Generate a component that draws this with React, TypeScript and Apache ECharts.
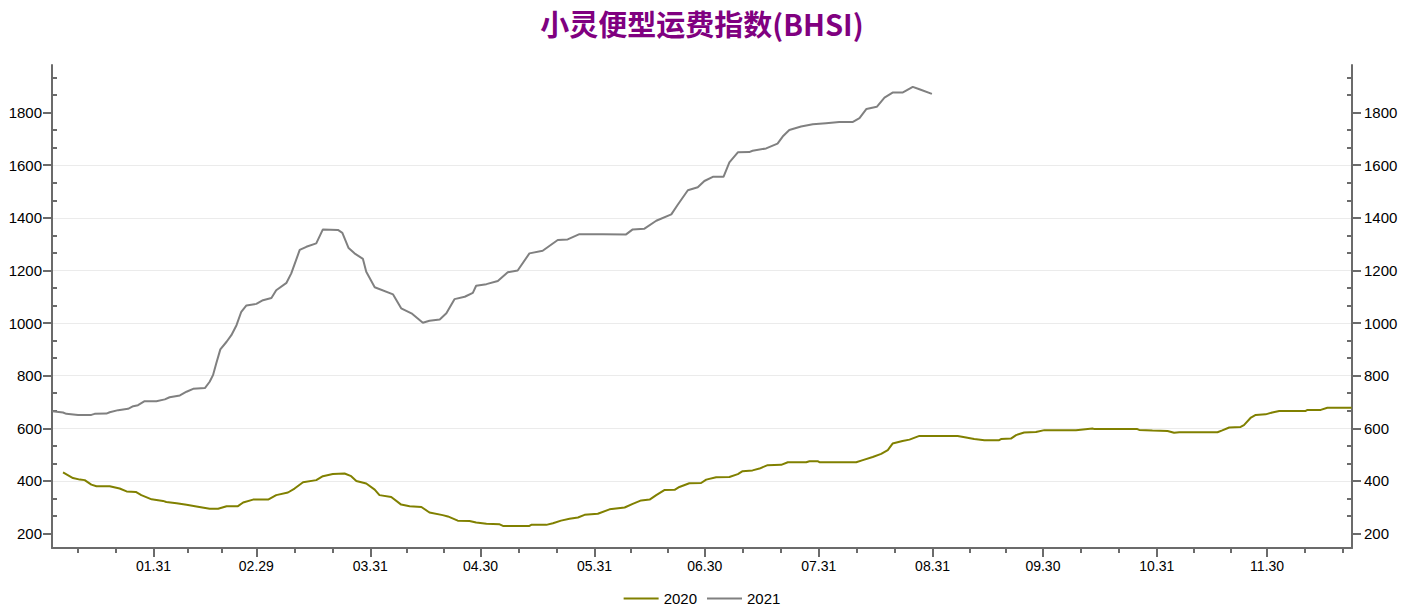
import React, { useEffect, useRef } from "react";
import * as echarts from "echarts";

// ---- data (x = day of year, tick labels at month ends) ----
const monthEnds = [30, 58, 89, 119, 150, 180, 211, 242, 272, 303, 333];
const monthLabels = ["01.31", "02.29", "03.31", "04.30", "05.31", "06.30", "07.31", "08.31", "09.30", "10.31", "11.30"];
const yLabels = [200, 400, 600, 800, 1000, 1200, 1400, 1600, 1800];

const days2021 = [2.5, 5.4, 6.3, 9.5, 13.1, 14.0, 17.2, 18.1, 20.4, 23.1,
  24.5, 25.8, 27.6, 30.8, 33.1, 34.4, 37.2, 39.0, 40.8, 44.0,
  45.3, 46.2, 47.1, 48.2, 49.9, 51.2, 52.6, 53.9, 55.3, 58.0,
  59.8, 62.1, 63.4, 66.2, 67.5, 69.8, 71.6, 74.3, 76.1, 80.2,
  81.4, 83.1, 84.7, 87.0, 87.9, 90.2, 95.2, 97.4, 100.2, 103.3,
  105.1, 107.9, 109.7, 111.9, 114.7, 116.9, 117.8, 120.6, 123.7, 126.4,
  129.1, 132.3, 135.9, 140.0, 142.7, 145.9, 152.3, 158.6, 160.4, 163.6,
  166.8, 170.9, 172.6, 175.4, 178.1, 179.9, 182.2, 185.1, 186.7, 189.0,
  192.1, 193.0, 196.7, 199.8, 201.2, 203.0, 206.2, 209.4, 213.0, 216.6,
  220.2, 222.1, 224.0, 226.8, 228.9, 231.1, 233.8, 236.6, 238.4, 241.8];
const values2021 = [665, 660, 655, 651, 651, 655, 656, 661, 669, 674,
  684, 688, 703, 703, 710, 718, 725, 739, 750, 753,
  777, 802, 847, 900, 929, 954, 992, 1043, 1067, 1073,
  1087, 1095, 1125, 1153, 1189, 1278, 1290, 1303, 1356, 1354,
  1343, 1285, 1265, 1244, 1195, 1136, 1109, 1056, 1037, 1001,
  1009, 1014, 1037, 1091, 1100, 1115, 1142, 1148, 1160, 1193,
  1200, 1265, 1275, 1316, 1318, 1338, 1338, 1337, 1356, 1359,
  1389, 1413, 1449, 1505, 1516, 1540, 1556, 1556, 1611, 1649,
  1650, 1655, 1664, 1682, 1709, 1734, 1747, 1756, 1760, 1764,
  1764, 1779, 1814, 1822, 1857, 1876, 1876, 1898, 1889, 1871];

const days2020 = [5.4, 8.1, 10.0, 11.3, 13.1, 14.5, 18.1, 20.8, 22.7, 25.2,
  26.7, 29.5, 32.6, 33.5, 36.3, 39.0, 41.7, 45.3, 47.6, 49.9,
  53.0, 54.4, 57.1, 61.2, 63.4, 66.6, 68.4, 70.7, 74.3, 76.1,
  78.8, 82.0, 83.8, 85.2, 87.9, 90.2, 91.5, 94.7, 97.4, 99.7,
  102.9, 105.1, 108.7, 110.1, 112.8, 116.0, 117.8, 120.6, 124.2, 125.1,
  132.3, 132.8, 136.9, 138.7, 140.9, 143.2, 145.5, 147.3, 150.9, 154.1,
  158.2, 160.4, 162.7, 165.0, 166.8, 169.0, 171.8, 173.1, 175.8, 179.0,
  180.4, 183.1, 186.7, 189.0, 190.3, 193.0, 194.9, 197.1, 200.8, 202.6,
  207.6, 208.5, 210.7, 211.2, 221.2, 223.0, 225.7, 228.0, 229.8, 231.1,
  233.8, 235.7, 238.4, 243.8, 248.8, 251.1, 253.3, 256.1, 260.1, 260.6,
  263.3, 264.7, 266.9, 270.1, 272.4, 281.0, 285.5, 286.0, 297.7, 298.2,
  301.8, 305.9, 307.7, 309.1, 319.5, 320.8, 322.7, 325.8, 326.7, 328.6,
  329.9, 332.6, 334.4, 336.3, 343.5, 344.0, 347.6, 349.4, 356.0];
const values2020 = [432, 411, 405, 403, 386, 380, 380, 371, 360, 358,
  346, 330, 324, 320, 315, 309, 303, 294, 294, 304,
  304, 318, 329, 329, 346, 356, 371, 395, 403, 418,
  426, 428, 418, 400, 390, 367, 346, 339, 310, 304,
  301, 280, 270, 265, 249, 248, 242, 237, 235, 229,
  229, 233, 233, 239, 249, 256, 261, 271, 275, 292,
  299, 313, 326, 329, 346, 365, 366, 377, 391, 392,
  405, 414, 415, 426, 437, 440, 447, 460, 461, 471,
  471, 475, 475, 471, 471, 479, 491, 503, 517, 542,
  552, 557, 571, 571, 571, 565, 559, 555, 555, 559,
  561, 574, 584, 586, 593, 593, 599, 597, 597, 594,
  592, 590, 583, 585, 585, 592, 603, 605, 612, 641,
  651, 653, 660, 666, 666, 670, 670, 678, 678];

const X_MIN = 2.4;
const X_MAX = 356.1;
const Y_MIN = 145;
const Y_MAX = 1981;

const AXIS_COLOR = "#6b6b6b";
const LABEL_FONT = "Liberation Sans";

function buildMinorX() {
  const bounds = [-1, ...monthEnds, 364];
  const out: number[] = [];
  for (let i = 0; i < bounds.length - 1; i++) {
    const a = bounds[i], b = bounds[i + 1];
    [a + (b - a) / 3, a + (2 * (b - a)) / 3].forEach((v) => {
      if (v > X_MIN && v < X_MAX) out.push(v);
    });
  }
  return out;
}
function buildMinorY() {
  const out: number[] = [];
  for (let n = -3; n <= 30; n++) {
    if (n % 3 === 0) continue;
    const v = 200 + (n * 200) / 3;
    if (v > Y_MIN && v < Y_MAX) out.push(v);
  }
  return out;
}

export default function App() {
  const ref = useRef<HTMLDivElement>(null);
  useEffect(() => {
    if (!ref.current) return;
    const chart = echarts.init(ref.current, null, { renderer: "svg" });
    const minorX = buildMinorX();
    const minorY = buildMinorY();
    const d2020 = days2020.map((d, i) => [d, values2020[i]]);
    const d2021 = days2021.map((d, i) => [d, values2021[i]]);

    const yMain = (pos: "left" | "right", margin: number, split: boolean) => ({
      type: "value",
      position: pos,
      min: Y_MIN,
      max: Y_MAX,
      splitNumber: 9,
      axisLine: { show: true, onZero: false, lineStyle: { color: AXIS_COLOR, width: 2 } },
      axisTick: { show: true, customValues: yLabels, length: 9, lineStyle: { color: AXIS_COLOR, width: 2 } },
      axisLabel: {
        customValues: yLabels,
        margin,
        color: "#000",
        fontSize: 15,
        fontFamily: LABEL_FONT,
        formatter: (v: number) => String(Math.round(v)),
      },
      splitLine: { show: split, showMinLine: false, showMaxLine: false, lineStyle: { color: "#ebebeb", width: 1 } },
    });
    const yMinor = (pos: "left" | "right") => ({
      type: "value",
      position: pos,
      min: Y_MIN,
      max: Y_MAX,
      axisLine: { show: false },
      axisTick: { show: true, inside: true, customValues: minorY, length: 5, lineStyle: { color: AXIS_COLOR, width: 2 } },
      axisLabel: { show: false },
      splitLine: { show: false },
    });

    chart.setOption({
      animation: false,
      backgroundColor: "#ffffff",
      title: {
        text: "小灵便型运费指数(BHSI)",
        left: "center",
        top: 3,
        textStyle: { color: "#800080", fontSize: 29, fontWeight: "bold", fontFamily: "Noto Sans CJK SC" },
      },
      legend: {
        data: ["2020", "2021"],
        left: "center",
        top: 586,
        icon: "rect",
        itemWidth: 35,
        itemHeight: 2,
        itemGap: 10,
        textStyle: { fontSize: 15, color: "#000", fontFamily: LABEL_FONT },
      },
      grid: { left: 52, right: 52, top: 65, bottom: 62, containLabel: false },
      xAxis: [
        {
          type: "value",
          min: X_MIN,
          max: X_MAX,
          position: "bottom",
          axisLine: { show: true, onZero: false, lineStyle: { color: AXIS_COLOR, width: 2 } },
          axisTick: { show: true, customValues: monthEnds, length: 9, lineStyle: { color: AXIS_COLOR, width: 2 } },
          axisLabel: {
            customValues: monthEnds,
            margin: 11,
            color: "#000",
            fontSize: 14,
            fontFamily: LABEL_FONT,
            formatter: (v: number) => {
              const i = monthEnds.indexOf(Math.round(v));
              return i >= 0 ? monthLabels[i] : "";
            },
          },
          splitLine: { show: false },
        },
        {
          type: "value",
          min: X_MIN,
          max: X_MAX,
          position: "bottom",
          axisLine: { show: false, onZero: false },
          axisTick: { show: true, customValues: minorX, length: 5, lineStyle: { color: AXIS_COLOR, width: 2 } },
          axisLabel: { show: false },
          splitLine: { show: false },
        },
      ],
      yAxis: [yMain("left", 10, true), yMain("right", 12, false), yMinor("left"), yMinor("right")],
      series: [
        {
          name: "2020",
          type: "line",
          data: d2020,
          xAxisIndex: 0,
          yAxisIndex: 0,
          symbol: "none",
          showSymbol: false,
          lineStyle: { color: "#808000", width: 2 },
          itemStyle: { color: "#808000" },
        },
        {
          name: "2021",
          type: "line",
          data: d2021,
          xAxisIndex: 0,
          yAxisIndex: 0,
          symbol: "none",
          showSymbol: false,
          lineStyle: { color: "#808080", width: 2 },
          itemStyle: { color: "#808080" },
        },
      ],
    });
    return () => chart.dispose();
  }, []);
  return <div ref={ref} style={{ position: "absolute", left: 0, top: 0, width: 1404, height: 610 }} />;
}
